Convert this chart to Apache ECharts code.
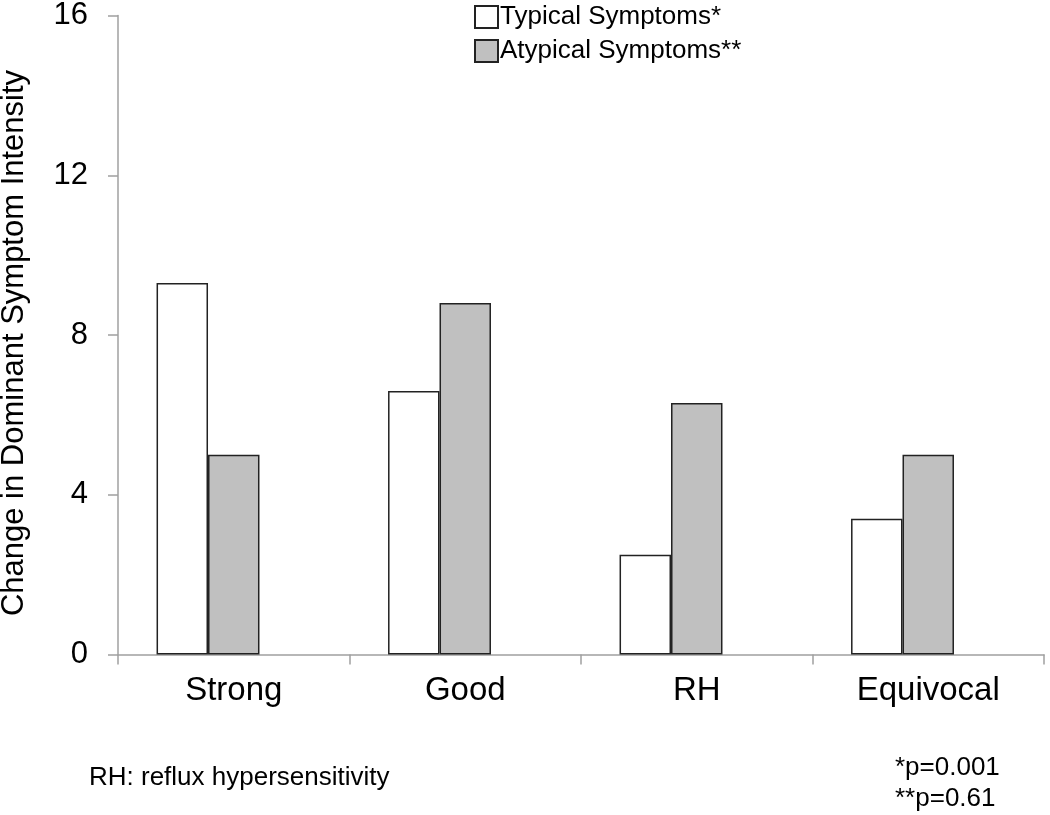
<!DOCTYPE html>
<html>
<head>
<meta charset="utf-8">
<script src="https://cdn.jsdelivr.net/npm/echarts@6/dist/echarts.min.js"></script>
<style>
html,body{margin:0;padding:0;background:#fff;}
#chart{width:1050px;height:815px;}
</style>
</head>
<body>
<div id="chart"></div>
<script>
var categories = ['Strong', 'Good', 'RH', 'Equivocal'];
var typicalValues = [9.3, 6.6, 2.5, 3.4];
var atypicalValues = [5.0, 8.8, 6.3, 5.0];
var spacerValues = ['-', '-', '-', '-'];
var yTicks = [0, 4, 8, 12, 16];
var seriesNames = ['Typical Symptoms*', 'Atypical Symptoms**'];
var yTitle = 'Change in Dominant Symptom Intensity';
var footnote = 'RH: reflux hypersensitivity';
var pNotes = ['*p=0.001', '**p=0.61'];

var FONT = "'Liberation Sans', Arial, sans-serif";
var chart = echarts.init(document.getElementById('chart'));
var option = {
  animation: false,
  backgroundColor: '#fff',
  textStyle: { fontFamily: FONT },
  grid: { left: 118, right: 6, top: 15.5, bottom: 160.5, containLabel: false },
  legend: {
    data: seriesNames,
    orient: 'vertical',
    icon: 'rect',
    left: 469,
    top: -1,
    itemWidth: 23,
    itemHeight: 22,
    itemGap: 8,
    selectedMode: false,
    textStyle: { fontFamily: FONT, fontSize: 26, color: '#000', padding: [0, 0, 0, -3] }
  },
  xAxis: {
    type: 'category',
    data: categories,
    axisLine: { lineStyle: { color: '#a0a0a0', width: 1.5 } },
    axisTick: { show: true, length: 10, alignWithLabel: false, lineStyle: { color: '#a0a0a0', width: 1.5 } },
    axisLabel: { fontFamily: FONT, fontSize: 33, color: '#000', margin: 20 },
    splitLine: { show: false }
  },
  yAxis: {
    type: 'value',
    min: yTicks[0],
    max: yTicks[yTicks.length - 1],
    interval: 4,
    axisLine: { show: true, lineStyle: { color: '#a0a0a0', width: 1.5 } },
    axisTick: { show: true, length: 10, lineStyle: { color: '#a0a0a0', width: 1.5 } },
    axisLabel: { fontFamily: FONT, fontSize: 31, color: '#000', margin: 30 },
    splitLine: { show: false }
  },
  series: [
    {
      name: seriesNames[0], type: 'bar', data: typicalValues,
      barGap: '0%', barCategoryGap: '33.3%',
      itemStyle: { color: '#ffffff', borderColor: '#222222', borderWidth: 1.5 }
    },
    {
      name: seriesNames[1], type: 'bar', data: atypicalValues,
      itemStyle: { color: '#c0c0c0', borderColor: '#222222', borderWidth: 1.5 }
    },
    {
      name: 'spacer', type: 'bar', data: spacerValues,
      itemStyle: { color: 'transparent' }, silent: true
    }
  ],
  graphic: [
    { type: 'text', x: 14.5, y: 343, rotation: Math.PI / 2,
      style: { text: yTitle, font: '31px ' + FONT, fill: '#000', align: 'center', verticalAlign: 'middle' } },
    { type: 'text', x: 89, y: 778,
      style: { text: footnote, font: '26px ' + FONT, fill: '#000', align: 'left', verticalAlign: 'middle' } },
    { type: 'text', x: 895, y: 768,
      style: { text: pNotes[0], font: '26px ' + FONT, fill: '#000', align: 'left', verticalAlign: 'middle' } },
    { type: 'text', x: 895, y: 799,
      style: { text: pNotes[1], font: '26px ' + FONT, fill: '#000', align: 'left', verticalAlign: 'middle' } }
  ]
};
chart.setOption(option);
</script>
</body>
</html>
